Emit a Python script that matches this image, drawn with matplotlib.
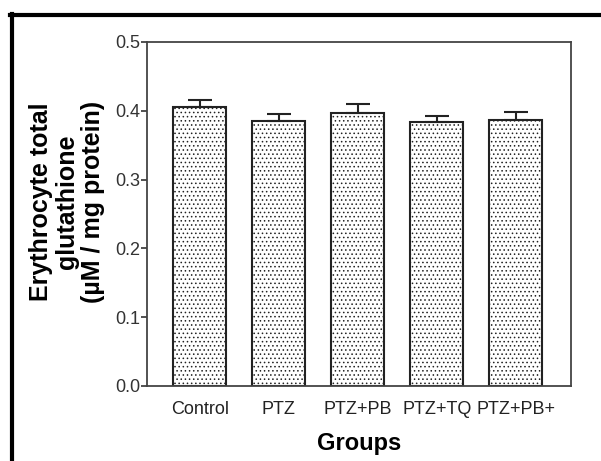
import matplotlib.pyplot as plt
from matplotlib.lines import Line2D

plt.rcParams['font.family'] = ['Liberation Sans', 'DejaVu Sans']
plt.rcParams['hatch.color'] = '#666666'
plt.rcParams['hatch.linewidth'] = 0.6

groups = ['Control', 'PTZ', 'PTZ+PB', 'PTZ+TQ', 'PTZ+PB+']
means = [0.406, 0.385, 0.397, 0.383, 0.387]
errs = [0.009, 0.011, 0.013, 0.010, 0.011]

fig = plt.figure(figsize=(6.01, 4.61), dpi=100)
ax = fig.add_axes([0.2446, 0.1627, 0.7054, 0.7462])

x = list(range(len(groups)))
ax.bar(x, means, width=0.67, color='white', edgecolor='#222222',
       linewidth=1.5, hatch='....', zorder=2)
ax.errorbar(x, means, yerr=[[0] * len(errs), errs], fmt='none',
            ecolor='#222222', elinewidth=1.5, capsize=8.3, capthick=1.5,
            zorder=3)

ax.set_xlim(-0.67, 4.7)
ax.set_ylim(0, 0.5)
ax.set_yticks([0.0, 0.1, 0.2, 0.3, 0.4, 0.5])
ax.set_yticklabels(['0.0', '0.1', '0.2', '0.3', '0.4', '0.5'])
ax.set_xticks(x)
ax.set_xticklabels(groups)
ax.tick_params(axis='y', length=4, width=1.2, color='#333333',
               labelsize=13, pad=1, labelcolor='#333333')
ax.tick_params(axis='x', length=0, labelsize=13, pad=11, labelcolor='#222222')
for s in ax.spines.values():
    s.set_color('#444444')
    s.set_linewidth(1.3)

fig.text(359 / 601, 1 - 443 / 461, 'Groups', ha='center', va='center',
         fontsize=17, fontweight='bold')
fig.text(67 / 601, 1 - 202 / 461,
         'Erythrocyte total\nglutathione\n(\u00b5M / mg protein)',
         ha='center', va='center', rotation=90, fontsize=18,
         fontweight='bold', linespacing=1.08)

# black frame on left and top
fig.add_artist(Line2D([12 / 601, 12 / 601], [0, 1 - 14 / 461],
                      transform=fig.transFigure, color='black', lw=3))
fig.add_artist(Line2D([10 / 601, 1], [1 - 15.5 / 461, 1 - 15.5 / 461],
                      transform=fig.transFigure, color='black', lw=3))

fig.savefig('out.png', dpi=100)
